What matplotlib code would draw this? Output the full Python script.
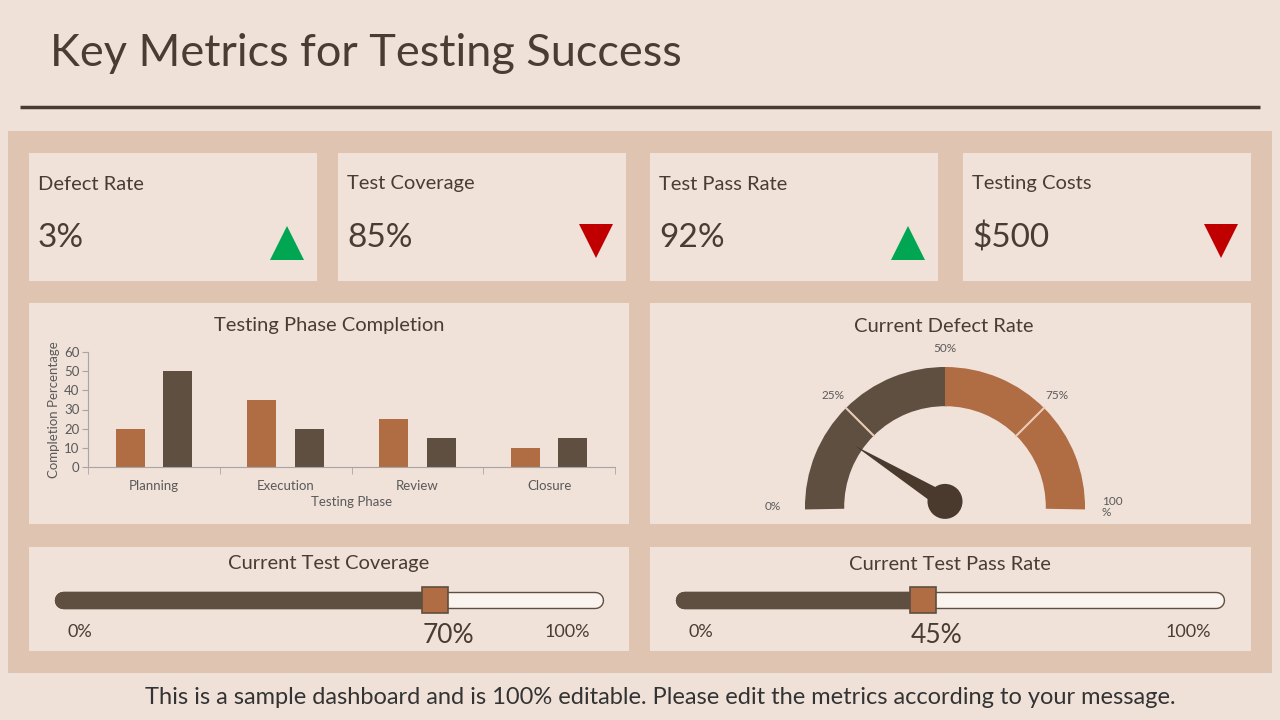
import numpy as np
import matplotlib
matplotlib.use('Agg')
import matplotlib.pyplot as plt
from matplotlib.patches import Rectangle, Wedge, Polygon, Circle

plt.rcParams['font.family'] = ['Lato', 'DejaVu Sans']

# ---- data ----
kpi_names = ['Defect Rate', 'Test Coverage', 'Test Pass Rate', 'Testing Costs']
kpi_values = ['3%', '85%', '92%', '$500']
kpi_trend = ['up', 'down', 'up', 'down']

phases = ['Planning', 'Execution', 'Review', 'Closure']
series_a = [20, 35, 25, 10]
series_b = [50, 20, 15, 15]

gauge_bands = [50, 50]
gauge_ticks = [0, 25, 50, 75, 100]
gauge_value = 19

coverage_value = 70
pass_rate_value = 45

BG = '#F0E1D8'
PANEL = '#E0C4B2'
CARD = '#F0E1D9'
DARK = '#5F4F41'
ORANGE = '#B06C43'
TEXT = '#4A3C33'
GRAY = '#5A5A5A'

W, H = 1280, 720
fig = plt.figure(figsize=(12.8, 7.2), dpi=100, facecolor=BG)


def fx(px):
    return px / W


def fy(py):
    return 1 - py / H


def add_ax(x0, y0, x1, y1):
    # pixel box (top-left origin) -> figure axes
    return fig.add_axes([fx(x0), fy(y1), fx(x1) - fx(x0), fy(y0) - fy(y1)])


# background layer in pixel coordinates
bg = fig.add_axes([0, 0, 1, 1])
bg.set_xlim(0, W)
bg.set_ylim(H, 0)
bg.axis('off')
bg.set_zorder(-1)

bg.text(50, 53, 'Key Metrics for Testing Success', fontsize=32.5, color=TEXT,
        va='center', ha='left')
bg.plot([20, 1260], [107, 107], color='#4A3A30', lw=2.5, solid_capstyle='butt')
bg.add_patch(Rectangle((8, 131), 1264, 542, color=PANEL, lw=0))

card_x = [(29, 317), (338, 626), (650, 938), (963, 1251)]
for (x0, x1), name, val, tr in zip(card_x, kpi_names, kpi_values, kpi_trend):
    bg.add_patch(Rectangle((x0, 153), x1 - x0, 128, color=CARD, lw=0))
    bg.text(x0 + 9, 184, name, fontsize=14.5, color=TEXT, va='center')
    bg.text(x0 + 9, 238, val, fontsize=24, color=TEXT, va='center')
    if tr == 'up':
        bg.plot(x1 - 30, 243, marker='^', ms=24, color='#00A651', mew=0)
    else:
        bg.plot(x1 - 30, 241, marker='v', ms=24, color='#C00000', mew=0)

for x0, y0, x1, y1 in [(29, 303, 629, 524), (650, 303, 1251, 524),
                       (29, 547, 629, 651), (650, 547, 1251, 651)]:
    bg.add_patch(Rectangle((x0, y0), x1 - x0, y1 - y0, color=CARD, lw=0))

bg.text(329, 325, 'Testing Phase Completion', fontsize=14.5, color=TEXT, ha='center', va='center')
bg.text(944, 326, 'Current Defect Rate', fontsize=14.5, color=TEXT, ha='center', va='center')
bg.text(329, 564, 'Current Test Coverage', fontsize=14.5, color=TEXT, ha='center', va='center')
bg.text(950, 564, 'Current Test Pass Rate', fontsize=14.5, color=TEXT, ha='center', va='center')

bg.text(660, 698, 'This is a sample dashboard and is 100% editable. Please edit the metrics '
        'according to your message.', fontsize=17, color='#333333', ha='center', va='center')

# ---- bar chart ----
ax = add_ax(88, 352, 615, 467)
ax.set_facecolor('none')
x = np.arange(len(phases))
ax.bar(x - 0.18, series_a, width=0.22, color=ORANGE)
ax.bar(x + 0.18, series_b, width=0.22, color=DARK)
ax.set_xlim(-0.5, len(phases) - 0.5)
ax.set_ylim(0, 60)
ax.set_yticks(range(0, 61, 10))
ax.set_xticks(x)
ax.set_xticklabels(phases)
ax.set_xticks(np.arange(-0.5, len(phases), 1), minor=True)
ax.tick_params(axis='x', which='major', length=0, pad=9, labelsize=9.5, labelcolor=GRAY)
ax.tick_params(axis='x', which='minor', length=5, color='#A6A6A6', direction='out')
ax.tick_params(axis='y', length=4, color='#A6A6A6', labelsize=9.5, labelcolor=GRAY, pad=2)
for s in ['top', 'right']:
    ax.spines[s].set_visible(False)
for s in ['left', 'bottom']:
    ax.spines[s].set_color('#A6A6A6')
ax.set_ylabel('Completion Percentage', fontsize=9.5, color=GRAY, labelpad=3)
ax.set_xlabel('Testing Phase', fontsize=9.5, color=GRAY, labelpad=3)

# ---- gauge ----
scale = 140.0
cx, cy = 945, 507
gx = add_ax(650, 303, 1251, 524)
gx.set_xlim((650 - cx) / scale, (1251 - cx) / scale)
gx.set_ylim(-(524 - cy) / scale, (cy - 303) / scale)
gx.axis('off')
r_out, r_in = 1.0, 0.72
start = 0
for band, col in zip(gauge_bands, [DARK, ORANGE]):
    a1 = 180 - start / 100 * 180
    a0 = 180 - (start + band) / 100 * 180
    gx.add_patch(Wedge((0, 0), r_out, a0 - 1, a1 + 1 if start == 0 else a1,
                       width=r_out - r_in, color=col, lw=0))
    start += band
for t in [25, 75]:
    ang = np.radians(180 - t / 100 * 180)
    gx.plot([r_in * np.cos(ang), r_out * np.cos(ang)],
            [r_in * np.sin(ang), r_out * np.sin(ang)], color='#EBCBB6', lw=1.5)
for t in gauge_ticks:
    ang = np.radians(180 - t / 100 * 180)
    if t == 0:
        gx.text(-1.17, 0.0, '0%', fontsize=8.5, color=GRAY, ha='right', va='center')
    elif t == 100:
        gx.text(1.12, 0.0, '100\n%', fontsize=8.5, color=GRAY, ha='left', va='center',
                linespacing=1.0)
    else:
        r = 1.13
        gx.text(r * np.cos(ang), r * np.sin(ang), f'{t}%', fontsize=8.5, color=GRAY,
                ha='center', va='center')
ang = np.radians(180 - gauge_value / 100 * 180)
tip = 0.78
perp = ang + np.pi / 2
bw = 0.06
needle = [(tip * np.cos(ang), tip * np.sin(ang)),
          (bw * np.cos(perp), 0.04 + bw * np.sin(perp)),
          (-bw * np.cos(perp), 0.04 - bw * np.sin(perp))]
gx.add_patch(Polygon(needle, closed=True, color='#4A3A2E', lw=0))
gx.add_patch(Circle((0, 0.04), 0.125, color='#4A3A2E', lw=0))


# ---- sliders ----
def slider(x0, value):
    sx = fig.add_axes([fx(x0), fy(651), fx(532), fy(547) - fy(651)])
    sx.set_xlim(0, 100)
    sx.set_ylim(651, 547)
    sx.axis('off')
    sx.plot([0, 100], [600, 600], color=DARK, lw=12.5, solid_capstyle='round', clip_on=False)
    sx.plot([0, 100], [600, 600], color='#FAF3EE', lw=10.5, solid_capstyle='round', clip_on=False)
    sx.plot([0, value], [600, 600], color=DARK, lw=12.5, solid_capstyle='round', clip_on=False)
    sx.plot([value], [600], marker='s', ms=18.5, mfc=ORANGE, mec=DARK, mew=1.2, clip_on=False)
    sx.text(3.2, 632, '0%', fontsize=13, color=TEXT, ha='center', va='center')
    sx.text(94.7, 632, '100%', fontsize=13, color=TEXT, ha='center', va='center')
    sx.text(value + 2.4, 636, f'{value}%', fontsize=19, color=TEXT, ha='center', va='center')


slider(63, coverage_value)
slider(684, pass_rate_value)

fig.savefig('out.png', dpi=100, facecolor=BG)
